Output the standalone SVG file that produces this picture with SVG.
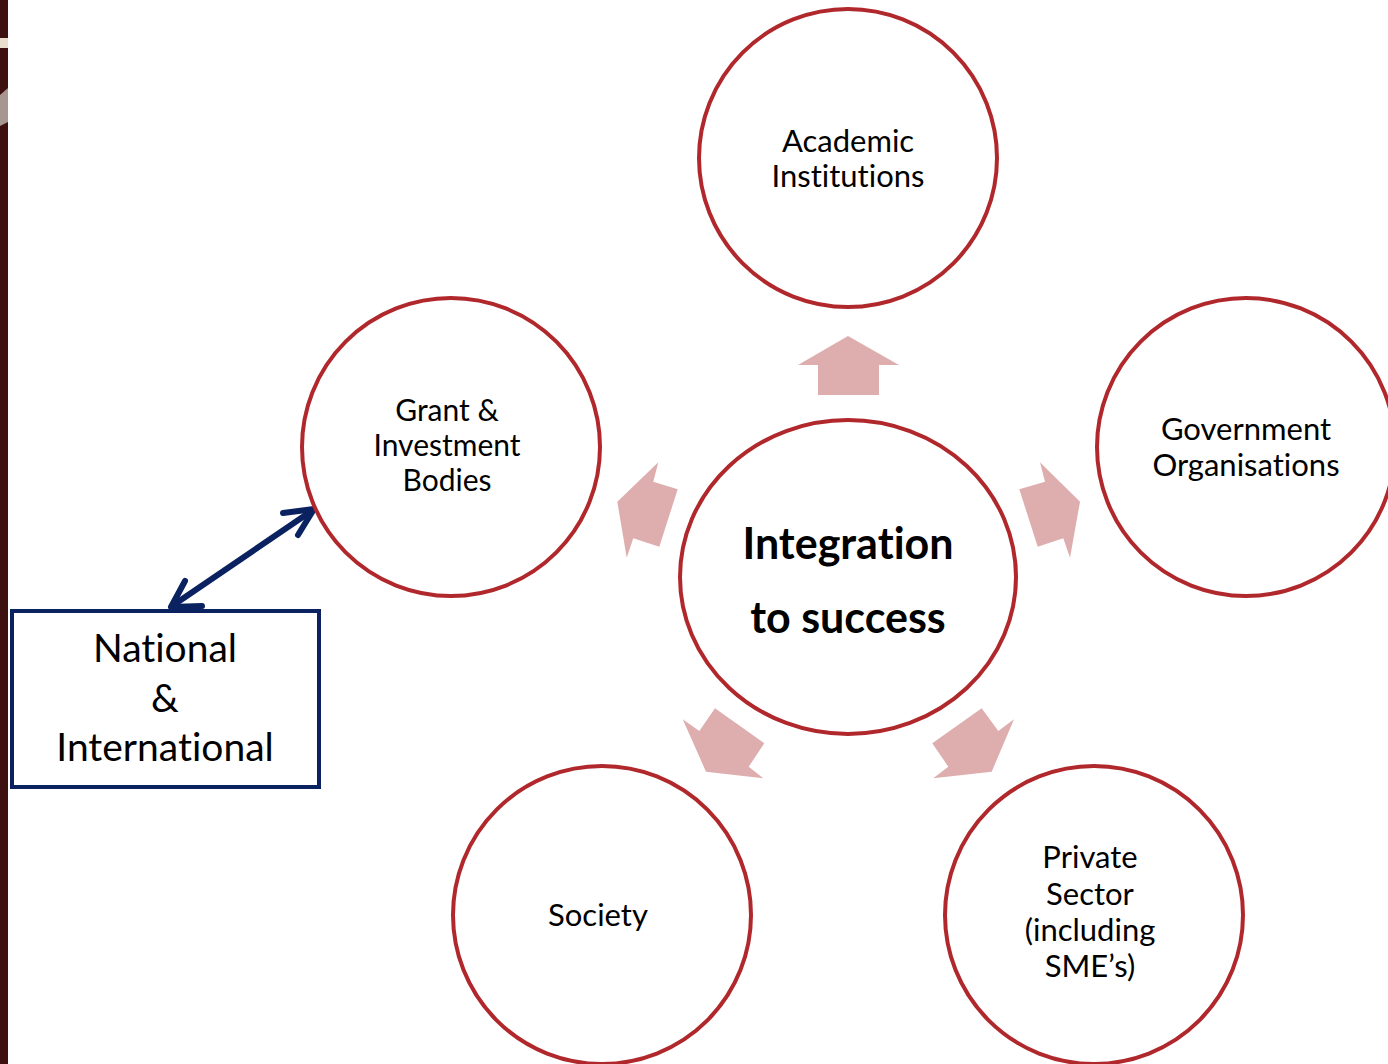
<svg xmlns="http://www.w3.org/2000/svg" width="1388" height="1064" viewBox="0 0 1388 1064">
<defs>
<style>
text{font-variant-ligatures:none;font-feature-settings:"liga" 0}
.node{fill:#ffffff;stroke:#b0282c;stroke-width:4}
.lbl{font-family:Lato,"Liberation Sans",sans-serif;font-size:31px;fill:#000;text-anchor:middle}
.big{font-family:Lato,"Liberation Sans",sans-serif;font-size:43px;font-weight:bold;fill:#000;text-anchor:middle}
.nat{font-family:Lato,"Liberation Sans",sans-serif;font-size:39px;fill:#000;text-anchor:middle}
.arr{fill:#deaeae}
.link{stroke:#0a2260;stroke-width:6;fill:none;stroke-linecap:round;stroke-linejoin:round}
</style>
</defs>
<rect width="1388" height="1064" fill="#ffffff"/>
<g id="edge">
<rect x="0" y="0" width="8" height="1064" fill="#3f1010"/>
<rect x="0" y="38" width="8" height="10" fill="#e9dfcc"/>
<polygon points="0,95 8,88 8,122 0,126" fill="#a89790"/>
</g>
<g id="connectors">
<polygon class="arr" points="848,336 899,365 879,365 879,395 818,395 818,365 798,365"/>
<polygon class="arr" points="658.3,462.3 653.3,481.7 677.7,489.3 659.3,546.7 633.3,538.3 626.7,557.7 617.3,501.7"/>
<polygon class="arr" points="1040,462.3 1045,481.7 1019.3,489.3 1037.7,546.7 1063.3,538.3 1070,557.7 1080,501.7"/>
<polygon class="arr" points="715,708.3 699.3,731 682.7,719.3 706,771.7 763.3,778.3 748.7,766.7 764.3,743.3"/>
<polygon class="arr" points="981.7,708.3 998.3,731 1014,719.3 991.7,771.7 933.3,778.3 948.3,766.7 932.3,743.3"/>
<line class="link" x1="172" y1="606" x2="313" y2="510"/>
<polyline class="link" points="283,513 314,509 298,535"/>
<polyline class="link" points="185,581 171,607 202,606"/>
</g>
<g id="academic">
<circle class="node" cx="848" cy="158" r="149"/>
<text class="lbl" x="848" y="152">Academic</text>
<text class="lbl" x="848" y="187">Institutions</text>
</g>
<g id="grant">
<circle class="node" cx="451" cy="447" r="149"/>
<text class="lbl" x="447" y="421" style="font-size:30px">Grant &amp;</text>
<text class="lbl" x="447" y="456" style="font-size:30px">Investment</text>
<text class="lbl" x="447" y="491" style="font-size:30px">Bodies</text>
</g>
<g id="government">
<circle class="node" cx="1246" cy="447" r="149"/>
<text class="lbl" x="1246" y="440">Government</text>
<text class="lbl" x="1246" y="476">Organisations</text>
</g>
<g id="center">
<ellipse class="node" cx="848" cy="577" rx="168" ry="157"/>
<text class="big" x="848" y="559">Integration</text>
<text class="big" x="848" y="633">to success</text>
</g>
<g id="society">
<circle class="node" cx="602" cy="915" r="149"/>
<text class="lbl" x="598" y="926">Society</text>
</g>
<g id="private">
<circle class="node" cx="1094" cy="915" r="149"/>
<text class="lbl" x="1090" y="868">Private</text>
<text class="lbl" x="1090" y="905">Sector</text>
<text class="lbl" x="1090" y="941">(including</text>
<text class="lbl" x="1090" y="977">SME’s)</text>
</g>
<g id="national">
<rect x="12" y="611" width="307" height="176" fill="#ffffff" stroke="#0a2260" stroke-width="4"/>
<text class="nat" x="165" y="662">National</text>
<text class="nat" x="165" y="712">&amp;</text>
<text class="nat" x="165" y="761">International</text>
</g>
</svg>
